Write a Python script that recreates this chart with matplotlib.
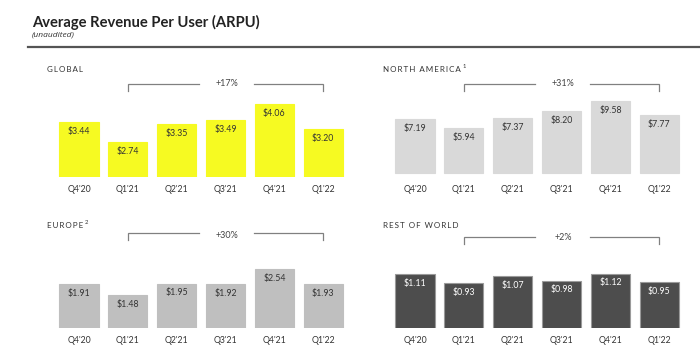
import matplotlib
matplotlib.use("Agg")
import matplotlib.pyplot as plt
from matplotlib.transforms import blended_transform_factory

plt.rcParams['font.family'] = ['Lato', 'DejaVu Sans']

quarters = ["Q4'20", "Q1'21", "Q2'21", "Q3'21", "Q4'21", "Q1'22"]
global_arpu = [3.44, 2.74, 3.35, 3.49, 4.06, 3.20]
na_arpu = [7.19, 5.94, 7.37, 8.20, 9.58, 7.77]
europe_arpu = [1.91, 1.48, 1.95, 1.92, 2.54, 1.93]
row_arpu = [1.11, 0.93, 1.07, 0.98, 1.12, 0.95]

TS = "\u2009"
WS = "  "
panel_titles = [TS.join("GLOBAL"), TS.join("NORTH") + WS + TS.join("AMERICA"),
                TS.join("EUROPE"), TS.join("REST") + WS + TS.join("OF") + WS + TS.join("WORLD")]
panel_sups = ["", "1", "2", ""]
growth = ["+17%", "+31%", "+30%", "+2%"]

W, H = 700, 351
fig = plt.figure(figsize=(7.0, 3.51), dpi=100)
fig.patch.set_facecolor("white")

def fx(px):
    return px / W

def fy(py):
    return 1 - py / H

# title block
fig.text(fx(32), fy(22), "Average Revenue Per User (ARPU)", fontsize=10.6, fontweight="bold",
         color="#222222", va="center", ha="left", family=["Lato", "DejaVu Sans"])
fig.text(fx(32), fy(35.5), "(unaudited)", fontsize=6.0, style="italic", color="#333333",
         va="center", ha="left", family=["Open Sans", "DejaVu Sans"])
fig.add_artist(plt.Line2D([fx(28), fx(700)], [fy(46.8), fy(46.8)], color="#555555", lw=1.6))

panels = [
    dict(values=global_arpu, left=54.6, bottom=177, ylim=(1.54, 5.57), color="#F6FA22",
         edge="#F6FA22", txt="#333333", label_y=69, bracket_y=84, drop=7, gtext_dy=-1),
    dict(values=na_arpu, left=390.6, bottom=177, ylim=(-0.51, 15.03), color="#D9D9D9",
         edge="#D9D9D9", txt="#333333", label_y=69, bracket_y=84, drop=7, gtext_dy=0),
    dict(values=europe_arpu, left=54.6, bottom=327.5, ylim=(0.10, 5.02), color="#BFBFBF",
         edge="#BFBFBF", txt="#333333", label_y=225, bracket_y=233, drop=7, gtext_dy=3),
    dict(values=row_arpu, left=390.6, bottom=328, ylim=(0.03, 2.37), color="#4D4D4D",
         edge="#9A9A9A", txt="#FFFFFF", label_y=225, bracket_y=237, drop=7, gtext_dy=1),
]

AX_W = 293
AX_H = 117
x = list(range(len(quarters)))

for p, title, sup, g in zip(panels, panel_titles, panel_sups, growth):
    ax = fig.add_axes([fx(p["left"]), fy(p["bottom"]), fx(AX_W), AX_H / H])
    ax.set_xlim(-0.5, 5.5)
    ax.set_ylim(*p["ylim"])
    bars = ax.bar(x, p["values"], width=0.8, color=p["color"], edgecolor=p["edge"],
                  linewidth=0.8, bottom=0)
    for b, v in zip(bars, p["values"]):
        ax.annotate(f"${v:.2f}", xy=(b.get_x() + b.get_width() / 2, v), xytext=(0, -6.8),
                    textcoords="offset points", ha="center", va="center",
                    fontsize=6.3, color=p["txt"])
    ax.set_xticks(x)
    ax.set_xticklabels(quarters, fontsize=6.3, color="#333333")
    ax.tick_params(axis="x", length=0, pad=6)
    ax.set_yticks([])
    for s in ax.spines.values():
        s.set_visible(False)
    ax.patch.set_alpha(0)

    # panel label
    lx = p["left"] - 8
    t = fig.text(fx(lx), fy(p["label_y"]), title, fontsize=5.8, color="#333333",
                 va="center", ha="left")
    if sup:
        fig.canvas.draw()
        bb = t.get_window_extent()
        fig.text(bb.x1 / W + fx(2), fy(p["label_y"] - 2.5), sup, fontsize=4.2,
                 color="#333333", va="center", ha="left")

    # bracket
    tr = blended_transform_factory(ax.transData, fig.transFigure)
    yb = fy(p["bracket_y"])
    yd = fy(p["bracket_y"] + p["drop"])
    lc = "#808080"
    ax.plot([1, 1, 2.45], [yd, yb, yb], color=lc, lw=0.9, transform=tr, clip_on=False,
            solid_joinstyle="miter")
    ax.plot([3.58, 5, 5], [yb, yb, yd], color=lc, lw=0.9, transform=tr, clip_on=False,
            solid_joinstyle="miter")
    ax.text(3.03, fy(p["bracket_y"] + p["gtext_dy"]), g, transform=tr, ha="center",
            va="center", fontsize=6.5, color="#444444")

fig.savefig("out.png", dpi=100, facecolor="white")
